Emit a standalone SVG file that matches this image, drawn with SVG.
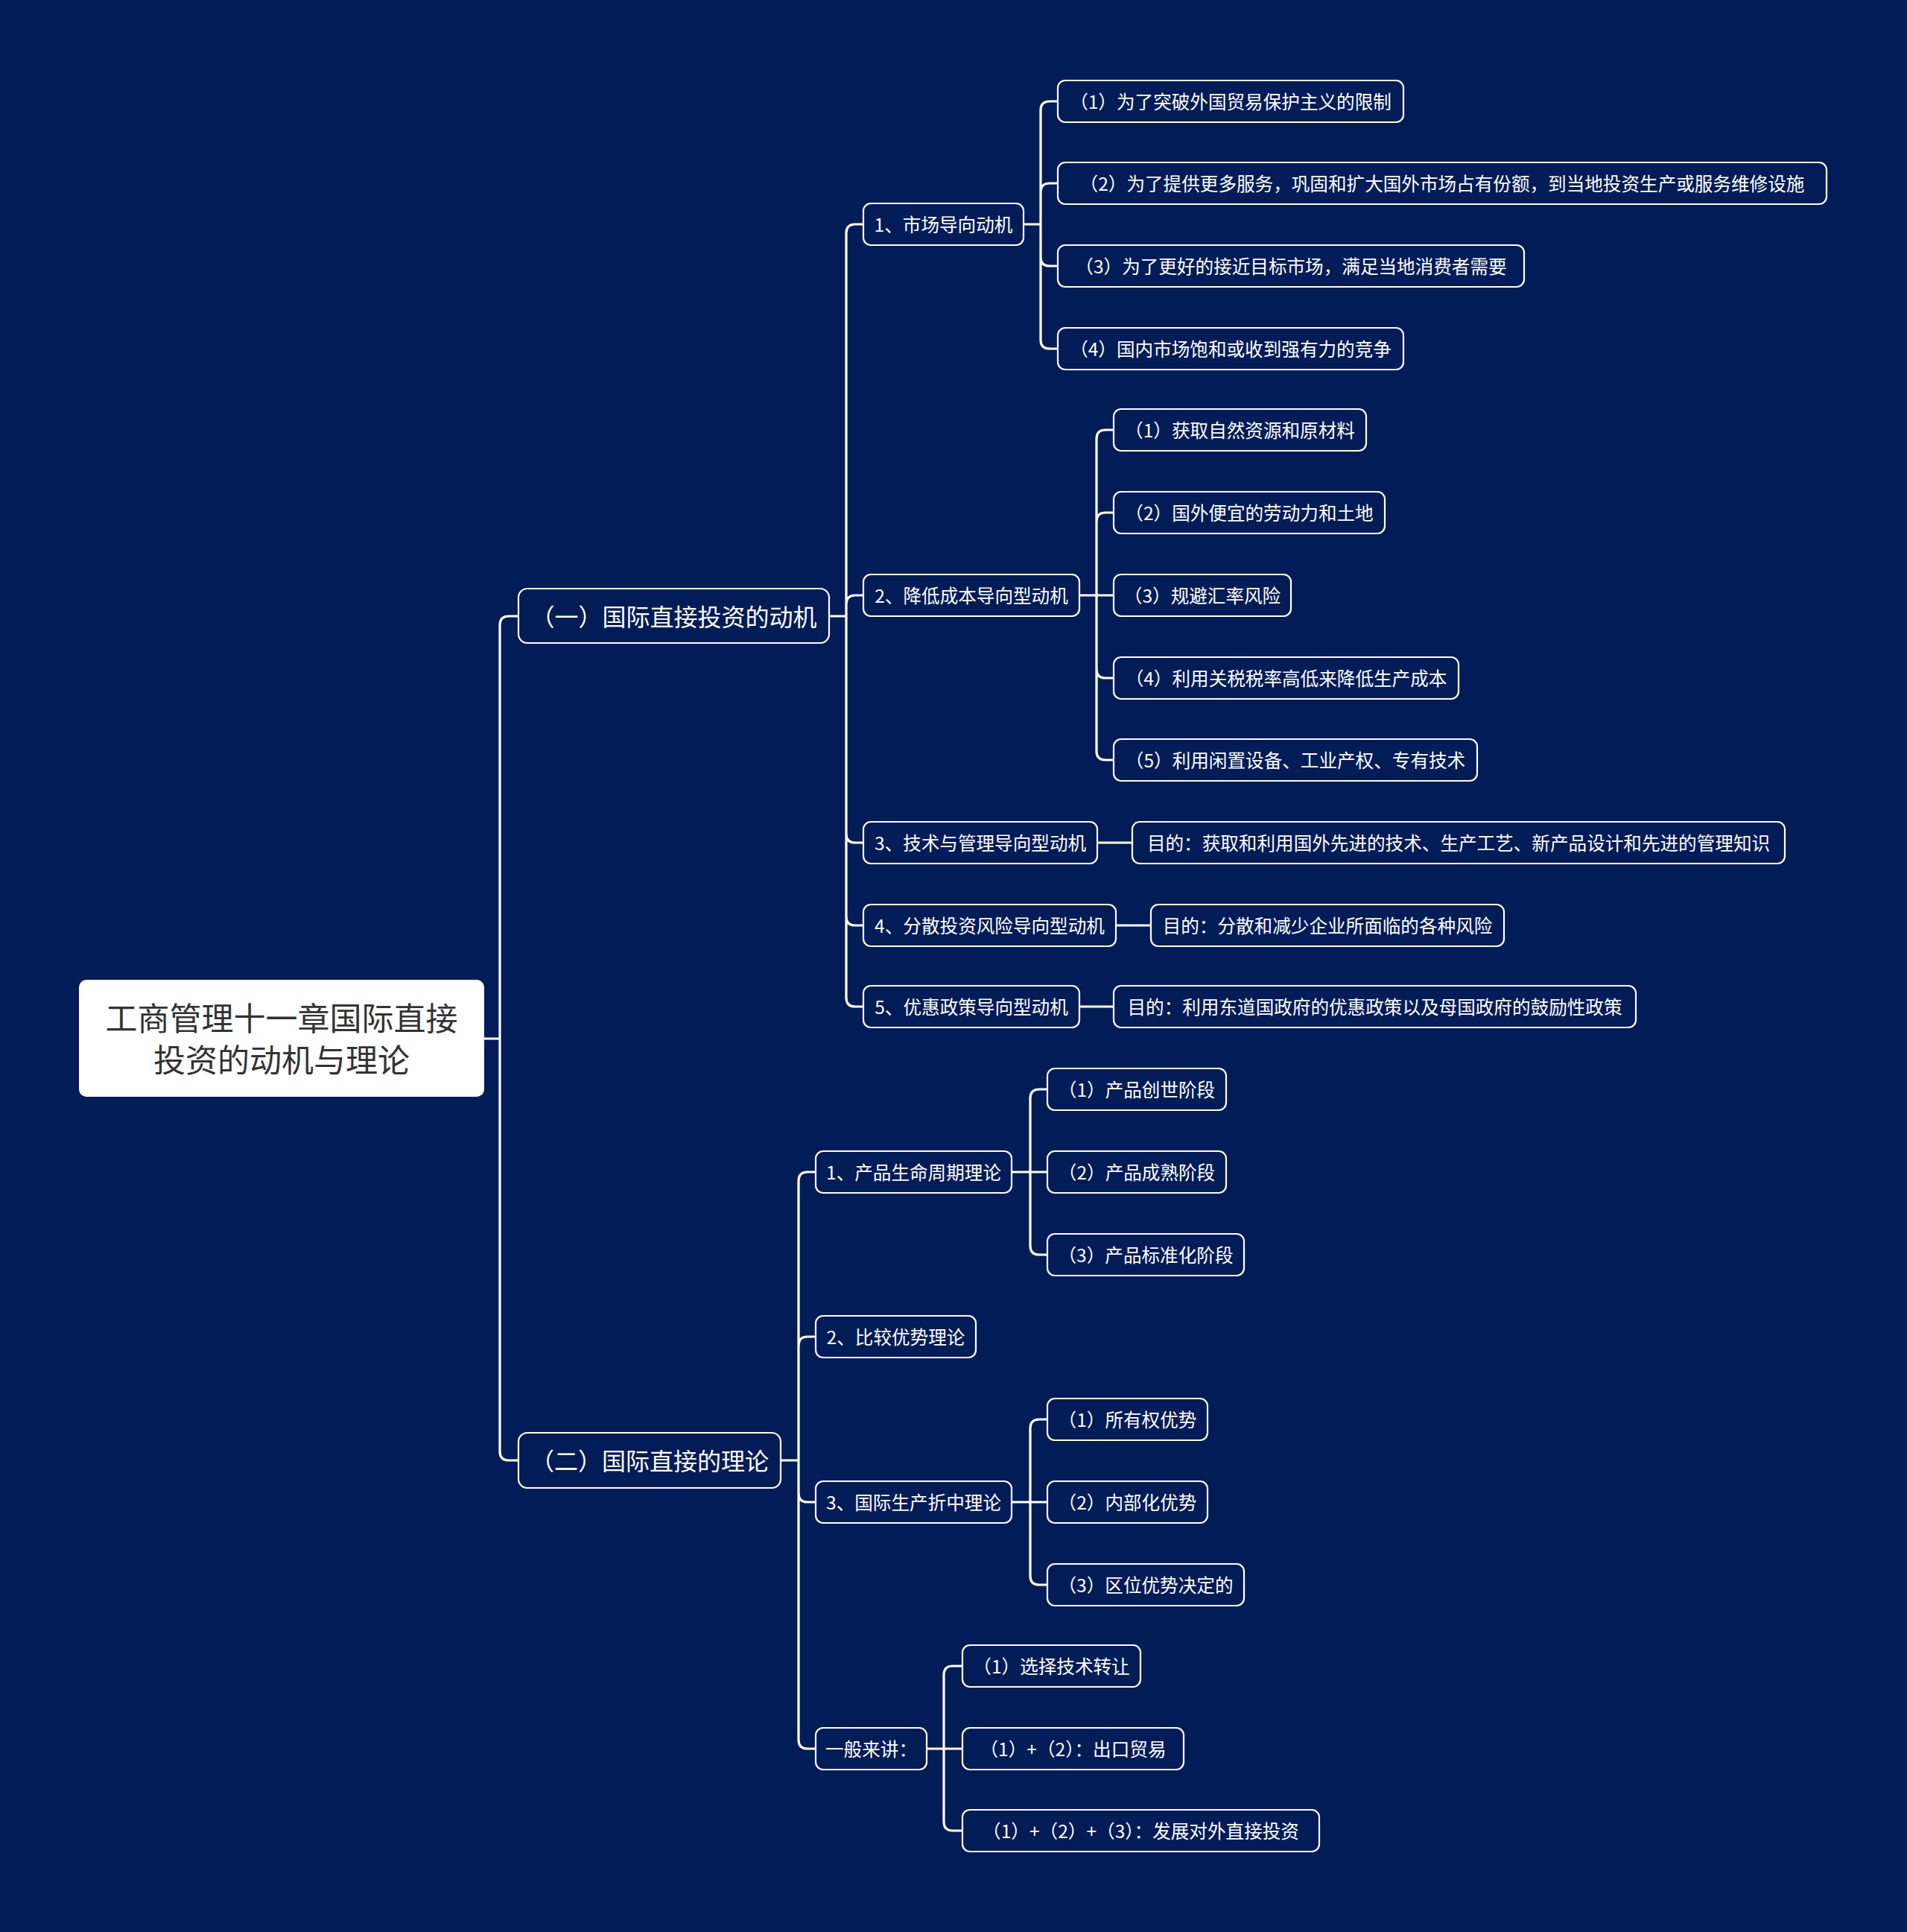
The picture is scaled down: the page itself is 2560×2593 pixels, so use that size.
<svg xmlns="http://www.w3.org/2000/svg" width="2560" height="2593" viewBox="0 0 2560 2593">
<style>
text{font-family:"Noto Sans CJK SC","Liberation Sans",sans-serif;}
.b{fill:#021c57;stroke:#ffffff;stroke-width:2.2;}
.t{fill:#ffffff;font-size:24.6px;text-anchor:middle;dominant-baseline:central;}
.t1{fill:#ffffff;font-size:32px;text-anchor:middle;dominant-baseline:central;}
.c{fill:none;stroke:#ffffff;stroke-width:3.2;stroke-linecap:round;}
</style>
<rect width="2560" height="2593" fill="#021c57"/>
<g id="connectors" class="c">
<path d="M650,1394 H671 M671,1394 V839 Q671,827 683,827 H696 M671,1394 V1948 Q671,1960 683,1960 H696"/>
<path d="M1113,827 H1136 M1136,827 V313 Q1136,301 1148,301 H1159 M1136,827 V811 Q1136,799 1148,799 H1159 M1136,827 V1119 Q1136,1131 1148,1131 H1159 M1136,827 V1230 Q1136,1242 1148,1242 H1159 M1136,827 V1339 Q1136,1351 1148,1351 H1159"/>
<path d="M1374,301 H1397 M1397,301 V148 Q1397,136 1409,136 H1420 M1397,301 V258 Q1397,246 1409,246 H1420 M1397,301 V345 Q1397,357 1409,357 H1420 M1397,301 V456 Q1397,468 1409,468 H1420"/>
<path d="M1449,799 H1495 M1472,799 V589 Q1472,577 1484,577 H1495 M1472,799 V700 Q1472,688 1484,688 H1495 M1472,799 V898 Q1472,910 1484,910 H1495 M1472,799 V1008 Q1472,1020 1484,1020 H1495"/>
<path d="M1473,1131 H1520 M1498,1242 H1545 M1449,1351 H1495"/>
<path d="M1048,1960 H1072 M1072,1960 V1585 Q1072,1573 1084,1573 H1095 M1072,1960 V1806 Q1072,1794 1084,1794 H1095 M1072,1960 V2004 Q1072,2016 1084,2016 H1095 M1072,1960 V2335 Q1072,2347 1084,2347 H1095"/>
<path d="M1358,1573 H1406 M1383,1573 V1474 Q1383,1462 1395,1462 H1406 M1383,1573 V1672 Q1383,1684 1395,1684 H1406"/>
<path d="M1358,2016 H1406 M1383,2016 V1917 Q1383,1905 1395,1905 H1406 M1383,2016 V2115 Q1383,2127 1395,2127 H1406"/>
<path d="M1244,2347 H1292 M1267,2347 V2248 Q1267,2236 1279,2236 H1292 M1267,2347 V2445 Q1267,2457 1279,2457 H1292"/>
</g>
<g id="root">
<rect x="106" y="1315" width="544" height="157" rx="10" fill="#ffffff"/>
<text x="378" y="1364" font-size="43" fill="#333333" text-anchor="middle" dominant-baseline="central">工商管理十一章国际直接</text>
<text x="378" y="1420" font-size="43" fill="#333333" text-anchor="middle" dominant-baseline="central">投资的动机与理论</text>
</g>
<g id="n1"><rect class="b" x="696" y="790" width="417" height="73" rx="12"/><text class="t1" x="904.5" y="826">（一）国际直接投资的动机</text></g>
<g id="n2"><rect class="b" x="696" y="1923" width="352" height="74" rx="12"/><text class="t1" x="872" y="1959">（二）国际直接的理论</text></g>

<g id="n1-1"><rect class="b" x="1159" y="273" width="215" height="56" rx="10"/><text class="t" x="1266.5" y="300">1、市场导向动机</text></g>
<g id="n1-2"><rect class="b" x="1159" y="771" width="290" height="56" rx="10"/><text class="t" x="1304" y="798">2、降低成本导向型动机</text></g>
<g id="n1-3"><rect class="b" x="1159" y="1103" width="314" height="56" rx="10"/><text class="t" x="1316" y="1130">3、技术与管理导向型动机</text></g>
<g id="n1-4"><rect class="b" x="1159" y="1214" width="339" height="56" rx="10"/><text class="t" x="1328.5" y="1241">4、分散投资风险导向型动机</text></g>
<g id="n1-5"><rect class="b" x="1159" y="1323" width="290" height="56" rx="10"/><text class="t" x="1304" y="1350">5、优惠政策导向型动机</text></g>

<g id="n1-1-1"><rect class="b" x="1420" y="108" width="464" height="56" rx="10"/><text class="t" x="1652" y="135">（1）为了突破外国贸易保护主义的限制</text></g>
<g id="n1-1-2"><rect class="b" x="1420" y="218" width="1032" height="56" rx="10"/><text class="t" x="1936" y="245">（2）为了提供更多服务，巩固和扩大国外市场占有份额，到当地投资生产或服务维修设施</text></g>
<g id="n1-1-3"><rect class="b" x="1420" y="329" width="626" height="56" rx="10"/><text class="t" x="1733" y="356">（3）为了更好的接近目标市场，满足当地消费者需要</text></g>
<g id="n1-1-4"><rect class="b" x="1420" y="440" width="464" height="56" rx="10"/><text class="t" x="1652" y="467">（4）国内市场饱和或收到强有力的竞争</text></g>

<g id="n1-2-1"><rect class="b" x="1495" y="549" width="339" height="56" rx="10"/><text class="t" x="1664.5" y="576">（1）获取自然资源和原材料</text></g>
<g id="n1-2-2"><rect class="b" x="1495" y="660" width="364" height="56" rx="10"/><text class="t" x="1677" y="687">（2）国外便宜的劳动力和土地</text></g>
<g id="n1-2-3"><rect class="b" x="1495" y="771" width="238" height="56" rx="10"/><text class="t" x="1614" y="798">（3）规避汇率风险</text></g>
<g id="n1-2-4"><rect class="b" x="1495" y="882" width="463" height="56" rx="10"/><text class="t" x="1726.5" y="909">（4）利用关税税率高低来降低生产成本</text></g>
<g id="n1-2-5"><rect class="b" x="1495" y="992" width="488" height="56" rx="10"/><text class="t" x="1739" y="1019">（5）利用闲置设备、工业产权、专有技术</text></g>

<g id="n1-3-1"><rect class="b" x="1520" y="1103" width="876" height="56" rx="10"/><text class="t" x="1958" y="1130">目的：获取和利用国外先进的技术、生产工艺、新产品设计和先进的管理知识</text></g>
<g id="n1-4-1"><rect class="b" x="1545" y="1214" width="474" height="56" rx="10"/><text class="t" x="1782" y="1241">目的：分散和减少企业所面临的各种风险</text></g>
<g id="n1-5-1"><rect class="b" x="1495" y="1323" width="701" height="56" rx="10"/><text class="t" x="1845.5" y="1350">目的：利用东道国政府的优惠政策以及母国政府的鼓励性政策</text></g>

<g id="n2-1"><rect class="b" x="1095" y="1545" width="263" height="56" rx="10"/><text class="t" x="1226.5" y="1572">1、产品生命周期理论</text></g>
<g id="n2-2"><rect class="b" x="1095" y="1766" width="215" height="56" rx="10"/><text class="t" x="1202.5" y="1793">2、比较优势理论</text></g>
<g id="n2-3"><rect class="b" x="1095" y="1988" width="263" height="56" rx="10"/><text class="t" x="1226.5" y="2015">3、国际生产折中理论</text></g>
<g id="n2-4"><rect class="b" x="1095" y="2319" width="149" height="56" rx="10"/><text class="t" x="1169.5" y="2346">一般来讲：</text></g>

<g id="n2-1-1"><rect class="b" x="1406" y="1434" width="240" height="56" rx="10"/><text class="t" x="1526" y="1461">（1）产品创世阶段</text></g>
<g id="n2-1-2"><rect class="b" x="1406" y="1545" width="240" height="56" rx="10"/><text class="t" x="1526" y="1572">（2）产品成熟阶段</text></g>
<g id="n2-1-3"><rect class="b" x="1406" y="1656" width="264" height="56" rx="10"/><text class="t" x="1538" y="1683">（3）产品标准化阶段</text></g>

<g id="n2-3-1"><rect class="b" x="1406" y="1877" width="215" height="56" rx="10"/><text class="t" x="1513.5" y="1904">（1）所有权优势</text></g>
<g id="n2-3-2"><rect class="b" x="1406" y="1988" width="215" height="56" rx="10"/><text class="t" x="1513.5" y="2015">（2）内部化优势</text></g>
<g id="n2-3-3"><rect class="b" x="1406" y="2099" width="264" height="56" rx="10"/><text class="t" x="1538" y="2126">（3）区位优势决定的</text></g>

<g id="n2-4-1"><rect class="b" x="1292" y="2208" width="239" height="56" rx="10"/><text class="t" x="1411.5" y="2235">（1）选择技术转让</text></g>
<g id="n2-4-2"><rect class="b" x="1292" y="2319" width="297" height="56" rx="10"/><text class="t" x="1440.5" y="2346">（1）+（2）：出口贸易</text></g>
<g id="n2-4-3"><rect class="b" x="1292" y="2429" width="479" height="56" rx="10"/><text class="t" x="1531.5" y="2456">（1）+（2）+（3）：发展对外直接投资</text></g>
</svg>
